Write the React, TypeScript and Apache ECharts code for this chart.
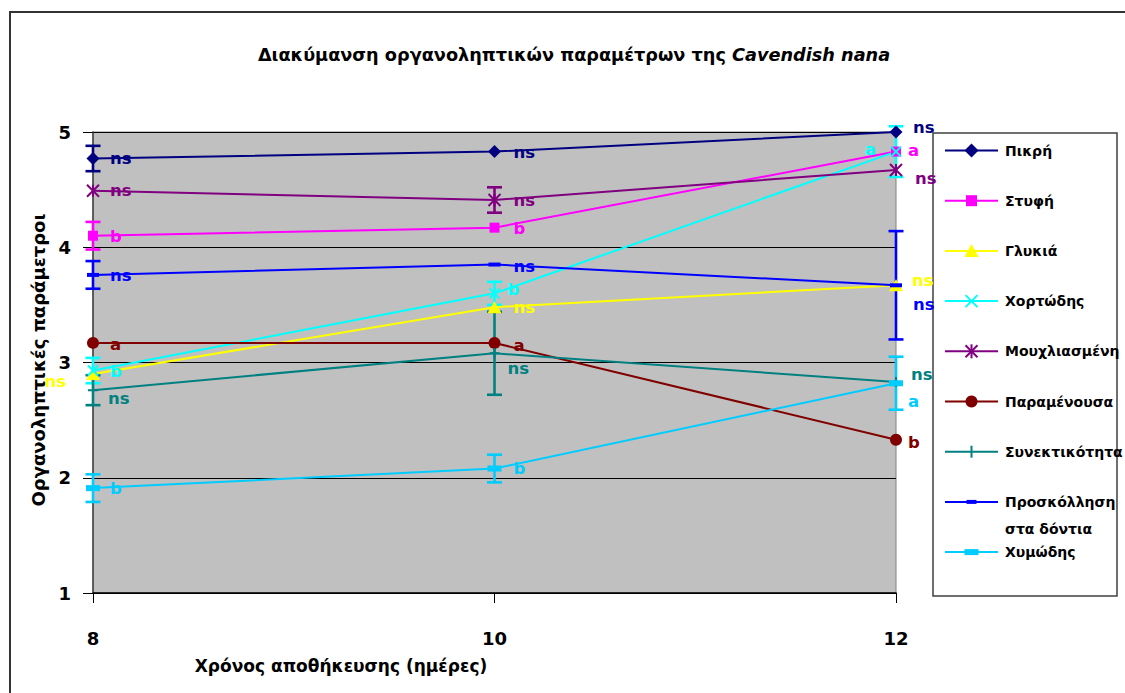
import React, { useEffect, useRef } from 'react';
import * as echarts from 'echarts';

// Storage days (x axis categories)
const days = ['8', '10', '12'];
const yTicks = [1, 2, 3, 4, 5];

// Mean sensory scores per storage day
const pikri = [4.77, 4.83, 5.0];
const styfi = [4.1, 4.17, 4.83];
const glykia = [2.9, 3.48, 3.67];
const hortodis = [2.93, 3.6, 4.83];
const mouhliasmeni = [4.49, 4.41, 4.67];
const paramenousa = [3.17, 3.17, 2.33];
const synektikotita = [2.76, 3.08, 2.83];
const proskollisi = [3.76, 3.85, 3.67];
const hymodis = [1.91, 2.08, 2.82];

// Half-width of the error bars (0 = no bar)
const pikriErr = [0.11, 0, 0];
const styfiErr = [0.12, 0, 0];
const glykiaErr = [0, 0, 0];
const hortodisErr = [0.11, 0.1, 0.22];
const mouhliasmeniErr = [0, 0.11, 0];
const paramenousaErr = [0, 0, 0];
const synektikotitaErr = [0.13, 0.36, 0];
const proskollisiErr = [0.12, 0, 0.47];
const hymodisErr = [0.12, 0.12, 0.23];

// Significance letters per storage day
const pikriSig = ['ns', 'ns', 'ns'];
const styfiSig = ['b', 'b', 'a'];
const glykiaSig = ['ns', 'ns', 'ns'];
const hortodisSig = ['b', 'b', 'a'];
const mouhliasmeniSig = ['ns', 'ns', 'ns'];
const paramenousaSig = ['a', 'a', 'b'];
const synektikotitaSig = ['ns', 'ns', 'ns'];
const proskollisiSig = ['ns', 'ns', 'ns'];
const hymodisSig = ['b', 'b', 'a'];

const FONT = "'Comic Sans MS', 'DejaVu Sans', sans-serif";

type Marker = 'diamond' | 'square' | 'triangle' | 'cross' | 'star' | 'circle' | 'plus' | 'dash' | 'thickDash';

interface SeriesDef {
  name: string;
  values: number[];
  err: number[];
  sig: string[];
  color: string;
  marker: Marker;
  // label placement per day: [dx, dy, align]
  place: [number, number, 'left' | 'right'][];
}

const defs: SeriesDef[] = [
  { name: 'Πικρή', values: pikri, err: pikriErr, sig: pikriSig, color: '#000080', marker: 'diamond',
    place: [[17, 0, 'left'], [19, 1, 'left'], [17, -5, 'left']] },
  { name: 'Στυφή', values: styfi, err: styfiErr, sig: styfiSig, color: '#FF00FF', marker: 'square',
    place: [[17, 1, 'left'], [19, 1, 'left'], [12, -1, 'left']] },
  { name: 'Γλυκιά', values: glykia, err: glykiaErr, sig: glykiaSig, color: '#FFFF00', marker: 'triangle',
    place: [[-27, 7, 'right'], [19, 0, 'left'], [16, -5, 'left']] },
  { name: 'Χορτώδης', values: hortodis, err: hortodisErr, sig: hortodisSig, color: '#00FFFF', marker: 'cross',
    place: [[17, 1, 'left'], [13, -4, 'left'], [-20, -2, 'right']] },
  { name: 'Μουχλιασμένη', values: mouhliasmeni, err: mouhliasmeniErr, sig: mouhliasmeniSig, color: '#800080', marker: 'star',
    place: [[17, 0, 'left'], [19, 1, 'left'], [19, 8, 'left']] },
  { name: 'Παραμένουσα', values: paramenousa, err: paramenousaErr, sig: paramenousaSig, color: '#800000', marker: 'circle',
    place: [[17, 2, 'left'], [19, 3, 'left'], [12, 3, 'left']] },
  { name: 'Συνεκτικότητα', values: synektikotita, err: synektikotitaErr, sig: synektikotitaSig, color: '#008080', marker: 'plus',
    place: [[15, 8, 'left'], [13, 15, 'left'], [15, -8, 'left']] },
  { name: 'Προσκόλληση\nστα δόντια', values: proskollisi, err: proskollisiErr, sig: proskollisiSig, color: '#0000FF', marker: 'dash',
    place: [[17, 1, 'left'], [19, 2, 'left'], [17, 19, 'left']] },
  { name: 'Χυμώδης', values: hymodis, err: hymodisErr, sig: hymodisSig, color: '#00CCFF', marker: 'thickDash',
    place: [[17, 0, 'left'], [19, 0, 'left'], [12, 18, 'left']] },
];

const symbolOf: Record<Marker, { symbol: string; size: number | number[]; stroke: boolean }> = {
  diamond: { symbol: 'diamond', size: [13, 13], stroke: false },
  square: { symbol: 'rect', size: [10, 10], stroke: false },
  triangle: { symbol: 'triangle', size: [14, 12], stroke: false },
  cross: { symbol: 'path://M0,0L10,10M10,0L0,10', size: [10, 10], stroke: true },
  star: { symbol: 'path://M0,0L10,10M10,0L0,10M5,0L5,10', size: [12, 12], stroke: true },
  circle: { symbol: 'circle', size: 12, stroke: false },
  plus: { symbol: 'path://M5,0L5,10M0,5L10,5', size: [10, 10], stroke: true },
  dash: { symbol: 'rect', size: [12, 4], stroke: false },
  thickDash: { symbol: 'rect', size: [14, 6], stroke: false },
};

// Small marker glyph for the legend box, drawn with graphic primitives
function legendMarker(m: Marker, cx: number, cy: number, color: string): any[] {
  const fill = { fill: color };
  const line = { stroke: color, lineWidth: 2 };
  switch (m) {
    case 'diamond':
      return [{ type: 'polygon', shape: { points: [[cx, cy - 7], [cx + 7, cy], [cx, cy + 7], [cx - 7, cy]] }, style: fill }];
    case 'square':
      return [{ type: 'rect', shape: { x: cx - 5.5, y: cy - 5.5, width: 11, height: 11 }, style: fill }];
    case 'triangle':
      return [{ type: 'polygon', shape: { points: [[cx, cy - 7], [cx + 7, cy + 6], [cx - 7, cy + 6]] }, style: fill }];
    case 'cross':
      return [
        { type: 'line', shape: { x1: cx - 6, y1: cy - 6, x2: cx + 6, y2: cy + 6 }, style: line },
        { type: 'line', shape: { x1: cx + 6, y1: cy - 6, x2: cx - 6, y2: cy + 6 }, style: line },
      ];
    case 'star':
      return [
        { type: 'line', shape: { x1: cx - 6, y1: cy - 6, x2: cx + 6, y2: cy + 6 }, style: line },
        { type: 'line', shape: { x1: cx + 6, y1: cy - 6, x2: cx - 6, y2: cy + 6 }, style: line },
        { type: 'line', shape: { x1: cx, y1: cy - 7, x2: cx, y2: cy + 7 }, style: line },
      ];
    case 'circle':
      return [{ type: 'circle', shape: { cx, cy, r: 6 }, style: fill }];
    case 'plus':
      return [{ type: 'line', shape: { x1: cx, y1: cy - 6, x2: cx, y2: cy + 6 }, style: line }];
    case 'dash':
      return [{ type: 'rect', shape: { x: cx - 5, y: cy - 2, width: 10, height: 4 }, style: fill }];
    case 'thickDash':
      return [{ type: 'rect', shape: { x: cx - 7, y: cy - 3, width: 14, height: 6 }, style: fill }];
  }
  return [];
}

export default function App() {
  const ref = useRef<HTMLDivElement>(null);

  useEffect(() => {
    if (!ref.current) return;
    const chart = echarts.init(ref.current, null, { renderer: 'svg' });

    const lineSeries = defs.map((d) => {
      const s = symbolOf[d.marker];
      return {
        type: 'line',
        name: d.name,
        data: d.values.map((v, i) => ({
          value: v,
          label: {
            formatter: d.sig[i],
            offset: [d.place[i][0], d.place[i][1]],
            align: d.place[i][2],
          },
        })),
        symbol: s.symbol,
        symbolSize: s.size,
        showAllSymbol: true,
        clip: false,
        z: 3,
        lineStyle: { color: d.color, width: 2 },
        itemStyle: s.stroke
          ? { color: d.color, borderColor: d.color, borderWidth: 2 }
          : { color: d.color, borderWidth: 0 },
        label: {
          show: true,
          position: 'inside',
          verticalAlign: 'middle',
          color: d.color,
          fontSize: 16.5,
          fontWeight: 'bold',
          fontFamily: FONT,
        },
        emphasis: { disabled: true },
      };
    });

    const errorSeries = defs
      .filter((d) => d.err.some((e) => e > 0))
      .map((d) => ({
        type: 'custom',
        name: d.name + ' err',
        z: 2,
        data: d.values.map((v, i) => [i, v, d.err[i]]),
        encode: { x: 0, y: 1 },
        renderItem: (_params: any, api: any) => {
          const x = api.value(0);
          const y = api.value(1);
          const e = api.value(2);
          if (!e) return null;
          const top = api.coord([x, y + e]);
          const bot = api.coord([x, y - e]);
          const hw = 7.5;
          const style = { stroke: d.color, lineWidth: 2.6 };
          return {
            type: 'group',
            children: [
              { type: 'line', shape: { x1: top[0], y1: top[1], x2: bot[0], y2: bot[1] }, style },
              { type: 'line', shape: { x1: top[0] - hw, y1: top[1], x2: top[0] + hw, y2: top[1] }, style },
              { type: 'line', shape: { x1: bot[0] - hw, y1: bot[1], x2: bot[0] + hw, y2: bot[1] }, style },
            ],
          };
        },
      }));

    // Legend box
    const legendX = 933;
    const legendY = 133;
    const legendChildren: any[] = [
      {
        type: 'rect',
        shape: { x: legendX, y: legendY, width: 184, height: 463 },
        style: { fill: '#FFFFFF', stroke: '#404040', lineWidth: 1.5 },
      },
    ];
    defs.forEach((d, i) => {
      const cy = 150.5 + i * 50.2;
      legendChildren.push({
        type: 'line',
        shape: { x1: 945, y1: cy, x2: 998, y2: cy },
        style: { stroke: d.color, lineWidth: 2 },
      });
      legendChildren.push(...legendMarker(d.marker, 971.5, cy, d.color));
      legendChildren.push({
        type: 'text',
        x: 1005,
        y: cy - 13.5,
        style: {
          text: d.name,
          fill: '#000',
          font: `bold 14px ${FONT}`,
          lineHeight: 27,
          align: 'left',
          verticalAlign: 'top',
        },
      });
    });

    chart.setOption({
      animation: false,
      backgroundColor: '#FFFFFF',
      grid: {
        left: 93,
        right: 229,
        top: 132,
        bottom: 100,
        show: true,
        backgroundColor: '#C0C0C0',
        borderColor: '#808080',
        borderWidth: 1,
      },
      xAxis: {
        type: 'category',
        data: days,
        boundaryGap: false,
        axisLine: { show: true, lineStyle: { color: '#000', width: 1.5 } },
        axisTick: { show: true, length: 10, lineStyle: { color: '#000' } },
        axisLabel: { margin: 36, fontSize: 18, fontWeight: 'bold', color: '#000', fontFamily: FONT },
        splitLine: { show: false },
      },
      yAxis: {
        type: 'value',
        min: yTicks[0],
        max: yTicks[yTicks.length - 1],
        interval: 1,
        axisLine: { show: true, lineStyle: { color: '#404040', width: 1.5 } },
        axisTick: { show: true, length: 10, lineStyle: { color: '#000' } },
        axisLabel: { margin: 22, fontSize: 18, fontWeight: 'bold', color: '#000', fontFamily: FONT },
        splitLine: { show: true, lineStyle: { color: '#000', width: 1 } },
      },
      graphic: [
        {
          type: 'rect',
          z: -10,
          shape: { x: 10, y: 12, width: 1200, height: 800 },
          style: { fill: 'none', stroke: '#333', lineWidth: 2 },
        },
        {
          type: 'text',
          x: 574,
          y: 55,
          style: {
            text: '{a|Διακύμανση οργανοληπτικών παραμέτρων της }{b|Cavendish nana}',
            align: 'center',
            verticalAlign: 'middle',
            rich: {
              a: { font: `bold 17.7px ${FONT}`, fill: '#000' },
              b: { font: `italic bold 17.7px ${FONT}`, fill: '#000' },
            },
          },
        },
        {
          type: 'text',
          x: 38,
          y: 360,
          rotation: Math.PI / 2,
          style: {
            text: 'Οργανοληπτικές παράμετροι',
            font: `bold 18px ${FONT}`,
            fill: '#000',
            align: 'center',
            verticalAlign: 'middle',
          },
        },
        {
          type: 'text',
          x: 341,
          y: 666,
          style: {
            text: 'Χρόνος αποθήκευσης (ημέρες)',
            font: `bold 17px ${FONT}`,
            fill: '#000',
            align: 'center',
            verticalAlign: 'middle',
          },
        },
        { type: 'group', z: 100, children: legendChildren },
      ],
      series: [...errorSeries, ...lineSeries],
    });

    return () => chart.dispose();
  }, []);

  return (
    <div
      ref={ref}
      style={{ position: 'absolute', left: 0, top: 0, width: 1125, height: 693, background: '#fff' }}
    />
  );
}
